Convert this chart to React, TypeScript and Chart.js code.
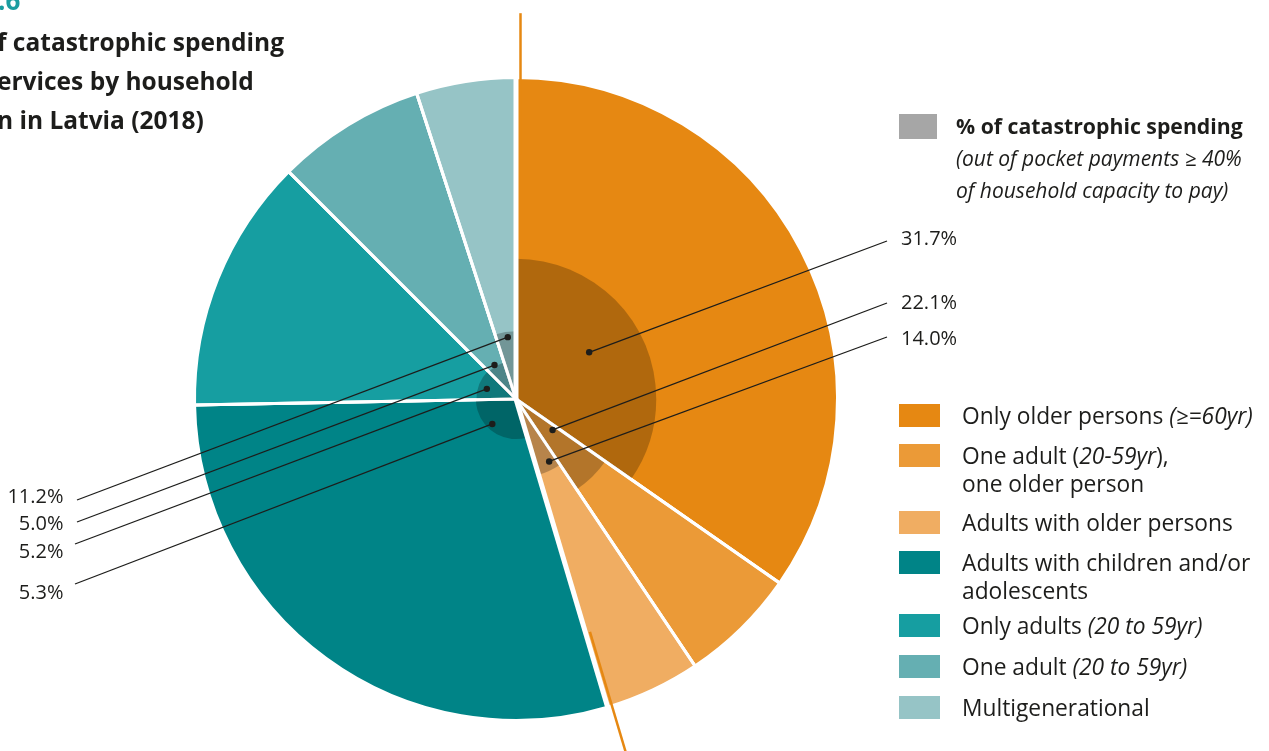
import React, { useEffect, useRef } from 'react';
import { Chart, registerables } from 'chart.js';

Chart.register(...registerables);

// ---------- data ----------
const categories = [
  'Only older persons *(≥=60yr)*',
  'One adult (*20-59yr*),\none older person',
  'Adults with older persons',
  'Adults with children and/or\nadolescents',
  'Only adults *(20 to 59yr)*',
  'One adult *(20 to 59yr)*',
  'Multigenerational',
];
// share of households (outer slices, %)
const householdShare = [34.7, 5.9, 4.8, 29.3, 12.8, 7.5, 5.0];
// % of catastrophic spending (inner darker wedges)
const catastrophicPct = [31.7, 22.1, 14.0, 5.3, 5.2, 5.0, 11.2];
const valueLabels = ['31.7%', '22.1%', '14.0%', '5.3%', '5.2%', '5.0%', '11.2%'];
// household group (older-person households vs. others)
const householdGroup = ['older', 'older', 'older', 'other', 'other', 'other', 'other'];

// ---------- styles ----------
const sliceColors = ['#E68812', '#EB9A37', '#F0AD62', '#008487', '#169EA1', '#65AFB2', '#96C4C6'];
const OVERLAY = 'rgba(0,0,0,0.235)';
const GROUP_LINE = '#E68812';
const INK = '#1d1d1b';
const TEAL_TITLE = '#1B9DA0';
const FONT = '"Open Sans", "Noto Sans", sans-serif';
const W = 1269;
const H = 751;

// ---------- layout ----------
// dot placement inside each inner wedge: [fraction of slice angle, fraction of outer radius]
const dotPlacement = [
  [0.46, 0.27], [0.25, 0.149], [0.34, 0.22], [0.57, 0.107], [0.44, 0.096], [0.47, 0.125], [0.58, 0.194],
];
// where each leader line ends
const leaderEnds = [
  [887, 241], [887, 303], [887, 337], [75, 584], [75, 544], [77, 522], [77, 500],
];
// value label anchors: side, x, centre y
const valueLabelPos: [string, number, number][] = [
  ['r', 901, 238], ['r', 901, 301.5], ['r', 901, 337.5],
  ['l', 63.5, 592], ['l', 63.5, 551], ['l', 63.5, 523], ['l', 63.5, 496],
];
const legendSwatchTops = [404, 444, 511, 551, 614, 655, 696];

const innerRadius = (p: number, R: number) => R * 0.975 * Math.pow(p / 100, 0.7);

const overlayPlugin = {
  id: 'catastrophicOverlay',
  afterDatasetsDraw(chart: any) {
    const ctx: CanvasRenderingContext2D = chart.ctx;
    const meta = chart.getDatasetMeta(0);
    const arcs = meta.data as any[];
    if (!arcs.length) return;
    const cx = arcs[0].x;
    const cy = arcs[0].y;
    const R = arcs[0].outerRadius;
    ctx.save();

    // inner darker wedges
    arcs.forEach((arc, i) => {
      const r = innerRadius(catastrophicPct[i], R);
      ctx.beginPath();
      ctx.moveTo(cx, cy);
      ctx.arc(cx, cy, r, arc.startAngle, arc.endAngle);
      ctx.closePath();
      ctx.fillStyle = OVERLAY;
      ctx.fill();
    });

    // white separators on top
    arcs.forEach((arc, i) => {
      const prev = (i - 1 + arcs.length) % arcs.length;
      const wide = householdGroup[i] !== householdGroup[prev];
      const a = arc.startAngle;
      ctx.beginPath();
      ctx.moveTo(cx, cy);
      ctx.lineTo(cx + Math.cos(a) * (R + 2), cy + Math.sin(a) * (R + 2));
      ctx.strokeStyle = '#ffffff';
      ctx.lineWidth = wide ? 5 : 3;
      ctx.lineCap = 'butt';
      ctx.stroke();
    });

    // orange group boundary lines
    arcs.forEach((arc, i) => {
      const prev = (i - 1 + arcs.length) % arcs.length;
      if (householdGroup[i] === householdGroup[prev]) return;
      const a = arc.startAngle;
      const dir = householdGroup[i] === 'older' ? 1 : -1;
      const px = -Math.sin(a) * 4.5 * dir;
      const py = Math.cos(a) * 4.5 * dir;
      ctx.beginPath();
      ctx.moveTo(cx + px + Math.cos(a) * R * 0.76, cy + py + Math.sin(a) * R * 0.76);
      ctx.lineTo(cx + px + Math.cos(a) * R * 1.2, cy + py + Math.sin(a) * R * 1.2);
      ctx.strokeStyle = GROUP_LINE;
      ctx.lineWidth = 2.5;
      ctx.stroke();
    });

    // leader lines + dots
    arcs.forEach((arc, i) => {
      const [f, rf] = dotPlacement[i];
      const a = arc.startAngle + (arc.endAngle - arc.startAngle) * f;
      const dx = cx + Math.cos(a) * R * rf;
      const dy = cy + Math.sin(a) * R * rf;
      const [ex, ey] = leaderEnds[i];
      ctx.beginPath();
      ctx.moveTo(dx, dy);
      ctx.lineTo(ex, ey);
      ctx.strokeStyle = INK;
      ctx.lineWidth = 1.3;
      ctx.stroke();
      ctx.beginPath();
      ctx.arc(dx, dy, 3.2, 0, Math.PI * 2);
      ctx.fillStyle = INK;
      ctx.fill();
    });

    ctx.restore();
  },
};

const renderRich = (s: string) =>
  s.split('\n').map((line, li) => (
    <div key={li}>
      {line.split('*').map((part, pi) =>
        pi % 2 === 1 ? <i key={pi}>{part}</i> : <span key={pi}>{part}</span>
      )}
    </div>
  ));

export default function App() {
  const canvasRef = useRef<HTMLCanvasElement | null>(null);

  useEffect(() => {
    const canvas = canvasRef.current;
    if (!canvas) return;
    const chart = new Chart(canvas, {
      type: 'pie',
      data: {
        labels: categories.map((c) => c.replace(/\*/g, '').replace('\n', ' ')),
        datasets: [
          {
            data: householdShare,
            backgroundColor: sliceColors,
            borderColor: '#ffffff',
            borderWidth: 3,
          },
        ],
      },
      options: {
        responsive: false,
        animation: false,
        layout: { padding: { left: 193, right: 430, top: 76, bottom: 29 } },
        plugins: { legend: { display: false }, tooltip: { enabled: false } },
      },
      plugins: [overlayPlugin],
    });
    return () => chart.destroy();
  }, []);

  return (
    <div
      style={{
        position: 'absolute',
        left: 0,
        top: 0,
        width: W,
        height: H,
        overflow: 'hidden',
        background: '#ffffff',
        fontFamily: FONT,
        color: INK,
      }}
    >
      <canvas ref={canvasRef} width={W} height={H} style={{ position: 'absolute', left: 0, top: 0, display: 'block' }} />

      {/* title (cropped in the reference) */}
      <div style={{ position: 'absolute', left: -2, top: -18, fontSize: 26, fontWeight: 700, color: TEAL_TITLE, lineHeight: '36px', whiteSpace: 'nowrap' }}>.6</div>
      <div style={{ position: 'absolute', left: -3, top: 21.5, fontSize: 24.5, fontWeight: 700, lineHeight: '39px', whiteSpace: 'nowrap' }}>
        <div>f catastrophic spending</div>
        <div>ervices by household</div>
        <div>n in Latvia (2018)</div>
      </div>

      {/* header legend for the inner wedges */}
      <div style={{ position: 'absolute', left: 899, top: 114, width: 38, height: 25, background: '#A6A6A6' }} />
      <div style={{ position: 'absolute', left: 956, top: 110, fontSize: 21, lineHeight: '32px', whiteSpace: 'nowrap' }}>
        <div style={{ fontWeight: 700, fontSize: 21.25 }}>% of catastrophic spending</div>
        <div style={{ fontStyle: 'italic' }}>(out of pocket payments ≥ 40%</div>
        <div style={{ fontStyle: 'italic' }}>of household capacity to pay)</div>
      </div>

      {/* value labels */}
      {valueLabels.map((t, i) => {
        const [side, x, cy] = valueLabelPos[i];
        return (
          <div
            key={t + i}
            style={{
              position: 'absolute',
              top: cy - 14,
              left: side === 'r' ? x : undefined,
              right: side === 'l' ? W - x : undefined,
              fontSize: 20,
              lineHeight: '28px',
              whiteSpace: 'nowrap',
            }}
          >
            {t}
          </div>
        );
      })}

      {/* legend */}
      {categories.map((c, i) => (
        <React.Fragment key={c}>
          <div style={{ position: 'absolute', left: 899, top: legendSwatchTops[i], width: 41, height: 23, background: sliceColors[i] }} />
          <div style={{ position: 'absolute', left: 962, top: legendSwatchTops[i] - 2.5, fontSize: 22.75, lineHeight: '28px', whiteSpace: 'nowrap' }}>
            {renderRich(c)}
          </div>
        </React.Fragment>
      ))}
    </div>
  );
}
